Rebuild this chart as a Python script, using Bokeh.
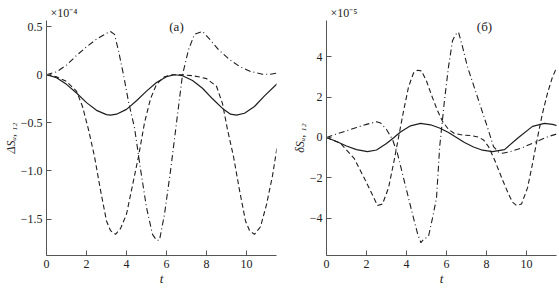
from bokeh.plotting import figure
from bokeh.layouts import row
from bokeh.models import Range1d, FixedTicker, Label
from bokeh.embed import file_html
from bokeh.resources import INLINE

# ---------------- data: panel (a), units of 1e-4 ----------------
ta_solid = [0, 0.5, 1, 1.5, 2, 2.5, 3, 3.2, 3.5, 4, 4.5, 5, 5.5, 6, 6.4, 6.8, 7.3, 7.8, 8.3, 8.8, 9.2, 9.5, 9.9, 10.4, 10.9, 11.6]
a_solid = [0, -0.03, -0.10, -0.19, -0.29, -0.37, -0.415, -0.42, -0.41, -0.36, -0.27, -0.17, -0.08, -0.02, 0, -0.01, -0.06, -0.14, -0.25, -0.35, -0.41, -0.42, -0.40, -0.33, -0.22, -0.08]

ta_dash = [0, 0.5, 1.0, 1.5, 1.8, 2.1, 2.4, 2.7, 3.0, 3.2, 3.45, 3.7, 4.0, 4.3, 4.6, 4.9, 5.2, 5.5, 5.9, 6.3, 6.8, 7.3, 7.6, 8.0, 8.5, 8.8, 9.05, 9.35, 9.65, 9.95, 10.15, 10.4, 10.7, 11.0, 11.3, 11.6]
a_dash = [0, -0.02, -0.07, -0.17, -0.33, -0.57, -0.85, -1.2, -1.52, -1.62, -1.66, -1.6, -1.45, -1.15, -0.85, -0.5, -0.25, -0.1, -0.02, 0, 0, -0.01, -0.02, -0.04, -0.12, -0.3, -0.57, -0.85, -1.2, -1.52, -1.62, -1.66, -1.58, -1.35, -1.05, -0.66]

ta_dd = [0, 0.5, 1.0, 1.5, 2.0, 2.5, 3.0, 3.2, 3.4, 3.6, 3.85, 4.1, 4.4, 4.7, 5.0, 5.3, 5.5, 5.65, 5.9, 6.2, 6.5, 6.8, 7.1, 7.4, 7.8, 8.2, 8.6, 9.2, 9.7, 10.2, 10.8, 11.2, 11.6]
a_dd = [0, 0.03, 0.1, 0.2, 0.29, 0.37, 0.43, 0.45, 0.42, 0.25, 0.0, -0.28, -0.55, -0.98, -1.38, -1.66, -1.72, -1.72, -1.45, -1.0, -0.5, 0.0, 0.26, 0.42, 0.45, 0.36, 0.26, 0.15, 0.08, 0.035, 0.005, 0.005, 0.02]

# ---------------- data: panel (б), units of 1e-5 ----------------
tb_solid = [0, 0.5, 1.0, 1.5, 2.05, 2.5, 3.0, 3.375, 3.7, 4.2, 4.7, 5.2, 5.65, 6.1, 6.5, 6.9, 7.35, 7.8, 8.3, 8.9, 9.6, 10.3, 10.9, 11.3, 11.6]
b_solid = [0, -0.2, -0.42, -0.6, -0.7, -0.62, -0.3, 0.0, 0.27, 0.58, 0.7, 0.63, 0.47, 0.25, 0.0, -0.25, -0.47, -0.63, -0.7, -0.6, 0.0, 0.55, 0.7, 0.65, 0.57]

tb_dash = [0, 0.7, 1.38, 1.88, 2.3, 2.55, 2.8, 3.1, 3.35, 3.6, 3.85, 4.1, 4.35, 4.55, 4.75, 5.0, 5.25, 5.54, 5.8, 6.1, 6.4, 6.8, 7.2, 7.6, 7.85, 8.1, 8.4, 8.8, 9.1, 9.3, 9.5, 9.75, 10.05, 10.3, 10.55, 10.8, 11.05, 11.3, 11.45, 11.6]
b_dash = [0, -0.29, -1.03, -2.0, -2.85, -3.37, -3.3, -2.5, -1.3, 0.0, 1.3, 2.5, 3.2, 3.33, 3.3, 2.8, 2.1, 1.36, 0.8, 0.4, 0.2, 0.12, 0.1, 0.02, -0.12, -0.45, -1.1, -2.1, -2.8, -3.2, -3.37, -3.3, -2.5, -1.3, 0.0, 1.2, 2.2, 3.0, 3.33, 3.33]

tb_dd = [0, 0.5, 1.0, 1.5, 2.0, 2.5, 2.7, 3.0, 3.3, 3.55, 3.8, 4.05, 4.3, 4.55, 4.72, 4.85, 5.1, 5.3, 5.5, 5.66, 5.9, 6.1, 6.3, 6.45, 6.6, 6.8, 7.05, 7.55, 8.05, 8.35, 8.6, 8.8, 9.2, 9.8, 10.5, 11.1, 11.6]
b_dd = [0, 0.17, 0.33, 0.5, 0.65, 0.78, 0.72, 0.4, -0.1, -0.8, -1.8, -2.8, -3.8, -4.75, -5.22, -5.05, -4.9, -4.0, -3.0, -0.45, 1.85, 3.5, 4.8, 5.1, 5.22, 4.5, 3.5, 2.0, 0.5, -0.45, -0.72, -0.78, -0.7, -0.5, -0.2, 0.05, 0.2]

x_ticks = [0, 2, 4, 6, 8, 10]
ya_ticks = [0.5, 0, -0.5, -1.0, -1.5]
ya_labels = ["0.5", "0", "\u22120.5", "\u22121.0", "\u22121.5"]
yb_ticks = [4, 2, 0, -2, -4]
yb_labels = ["4", "2", "0", "\u22122", "\u22124"]

SERIF = "Liberation Serif"
INK = "#1e1e1e"
AXIS = "#555555"
TXT = "#222222"


def make_panel(width, yr, yticks, ylabels, exp_text, panel_tag, tag_xy, ylabel):
    p = figure(width=width, height=288, output_backend="svg", toolbar_location=None,
               x_range=Range1d(0, 11.5), y_range=Range1d(*yr),
               min_border_left=46, min_border_right=width - 276, min_border_top=20, min_border_bottom=32)
    p.outline_line_color = None
    p.xgrid.visible = False
    p.ygrid.visible = False
    p.background_fill_color = "white"
    p.border_fill_color = "white"
    for ax in (p.xaxis, p.yaxis):
        ax.axis_line_color = AXIS
        ax.axis_line_width = 1
        ax.major_tick_line_color = AXIS
        ax.major_tick_in = 5
        ax.major_tick_out = 0
        ax.minor_tick_line_color = None
        ax.major_label_text_font = SERIF
        ax.major_label_text_font_size = "12px"
        ax.major_label_text_color = TXT
        ax.axis_label_text_font = SERIF
        ax.axis_label_text_font_style = "italic"
        ax.axis_label_text_color = TXT
    p.xaxis.ticker = FixedTicker(ticks=x_ticks)
    p.xaxis.major_label_standoff = 4
    p.xaxis.axis_label = "t"
    p.xaxis.axis_label_text_font_size = "13px"
    p.xaxis.axis_label_standoff = 0
    p.yaxis.ticker = FixedTicker(ticks=yticks)
    p.yaxis.major_label_overrides = {t: l for t, l in zip(yticks, ylabels)}
    p.yaxis.major_label_standoff = 4
    p.yaxis.axis_label = ylabel
    p.yaxis.axis_label_text_font_size = "12px"
    p.yaxis.axis_label_standoff = 0

    # multiplier above the y axis
    p.title.text = "\u00d710" + exp_text
    p.title.align = "left"
    p.title.offset = 4
    p.title.standoff = 2
    p.title.text_font = SERIF
    p.title.text_font_style = "normal"
    p.title.text_font_size = "12px"
    p.title.text_color = TXT

    # panel tag
    p.add_layout(Label(x=tag_xy[0], y=tag_xy[1], text=panel_tag, text_font=SERIF,
                       text_font_size="13px", text_color=TXT,
                       text_align="center", text_baseline="middle"))
    return p


pa = make_panel(280, (-1.879, 0.564), ya_ticks, ya_labels, "\u207b\u2074", "(а)", (6.5, 0.50),
                "\u0394S\u1d64, \u2081\u2082")
pa.line(ta_solid, a_solid, line_color=INK, line_width=1.2)
pa.line(ta_dash, a_dash, line_color=INK, line_width=1.1, line_dash="5 3")
pa.line(ta_dd, a_dd, line_color=INK, line_width=1.1, line_dash="6 3 1 3")

pb = make_panel(279, (-5.85, 5.80), yb_ticks, yb_labels, "\u207b\u2075", "(б)", (7.9, 5.5),
                "\u03b4S\u1d64, \u2081\u2082")
pb.line(tb_solid, b_solid, line_color=INK, line_width=1.2)
pb.line(tb_dash, b_dash, line_color=INK, line_width=1.1, line_dash="5 3")
pb.line(tb_dd, b_dd, line_color=INK, line_width=1.1, line_dash="6 3 1 3")

layout = row(pa, pb)
open("out.html", "w").write(file_html(layout, INLINE))
